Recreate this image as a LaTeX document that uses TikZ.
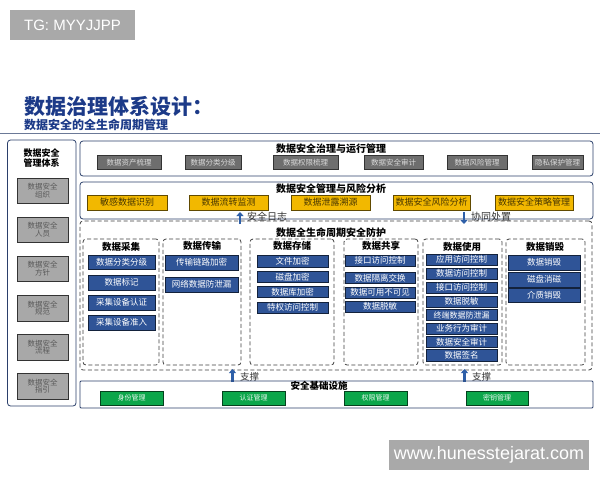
\documentclass[tikz,border=0pt]{standalone}
\usepackage{fontspec}
\setmainfont{Noto Sans CJK SC}
\newfontfamily\wmfont{Liberation Sans}
\usetikzlibrary{arrows.meta}
\definecolor{navy}{HTML}{2B3F6B}
\definecolor{titleblue}{HTML}{1C3A88}
\definecolor{dgray}{HTML}{6E6E6E}
\definecolor{lgray}{HTML}{A8A8A8}
\definecolor{yel}{HTML}{F2B800}
\definecolor{blu}{HTML}{2F5497}
\definecolor{grn}{HTML}{0BA64A}
\definecolor{arr}{HTML}{2E5FA8}
\definecolor{wm}{HTML}{A9A9A9}
\newcommand{\fs}[1]{\fontsize{#1}{#1}\selectfont}
\newcommand{\rb}[7]{\node[#1, inner sep=0pt, outer sep=0pt, minimum width={(#5-#3)*1pt}, minimum height={(#6-#4)*1pt}] (#2) at ({(#3+#5)/2},{(#4+#6)/2}) {#7};}
\tikzset{
  frame/.style={draw=navy, line width=0.8pt, rounded corners=3pt},
  dframe/.style={draw=black!75, line width=0.8pt, dash pattern=on 4pt off 2.5pt, rounded corners=3pt},
  graybox/.style={draw=black!80, fill=dgray, line width=0.6pt, text=black!15, font=\fs{7.5}},
  leftbox/.style={draw=black!80, fill=lgray, line width=0.6pt, text=black!65, font=\fs{7.5}, align=center},
  yelbox/.style={draw=black!60!yel, fill=yel, line width=0.6pt, text=black!70!yel, font=\fs{9}},
  blubox/.style={draw=black!60!blu, fill=blu, line width=0.6pt, text=white, font=\fs{8.5}},
  grnbox/.style={draw=black!60!grn, fill=grn, line width=0.6pt, text=white!90!grn, font=\fs{7}},
  sect/.style={font=\bfseries\fs{10}, text=black, inner sep=0pt},
  colt/.style={font=\bfseries\fs{9.5}, text=black, inner sep=0pt},
  lbl/.style={font=\fs{10}, text=black!80, inner sep=0pt, anchor=west},
  bigarrow/.style={draw=arr, line width=2.6pt, -{Triangle[width=7pt,length=4pt]}},
}
\begin{document}
\begin{tikzpicture}[x=1pt,y=-1pt]
\useasboundingbox (0,0) rectangle (600,480);
\fill[white] (0,0) rectangle (600,480);
% watermarks
\rb{fill=wm, text=white, font=\wmfont\fs{15}}{wm1}{10}{10}{135}{40}{TG: MYYJJPP}
\rb{fill=wm, text=white, font=\wmfont\fs{18}}{wm2}{389}{440}{589}{470}{www.hunesstejarat.com}
% title
\node[anchor=base west, inner sep=0pt, text=titleblue, font=\bfseries\fs{21}] (title) at (24,114) {数据治理体系设计：};
\node[anchor=base west, inner sep=0pt, text=titleblue, font=\bfseries\fs{12}] (subtitle) at (24,129) {数据安全的全生命周期管理};
\coordinate (hl1) at (0,133.5);
\coordinate (hl2) at (600,133.5);
\draw[draw=navy!70, line width=0.8pt] (hl1) -- (hl2);
% left column
\rb{frame}{left}{7.5}{140}{76}{406}{}
\node[font=\bfseries\fs{9}, align=center, inner sep=0pt] (lefttitle) at (41.5,158) {数据安全\\[1pt]管理体系};
\rb{leftbox}{l1}{17}{178}{68}{203}{数据安全\\组织}
\rb{leftbox}{l2}{17}{217}{68}{242}{数据安全\\人员}
\rb{leftbox}{l3}{17}{256}{68}{281}{数据安全\\方针}
\rb{leftbox}{l4}{17}{295}{68}{321}{数据安全\\规范}
\rb{leftbox}{l5}{17}{334}{68}{360}{数据安全\\流程}
\rb{leftbox}{l6}{17}{373}{68}{399}{数据安全\\指引}
% top box
\rb{frame}{top}{80}{141}{593}{176}{}
\node[sect] (toptitle) at (331,148.5) {数据安全治理与运行管理};
\rb{graybox}{g1}{97}{155}{161}{169.5}{数据资产梳理}
\rb{graybox}{g2}{185}{155}{241}{169.5}{数据分类分级}
\rb{graybox}{g3}{273}{155}{338}{169.5}{数据权限梳理}
\rb{graybox}{g4}{364}{155}{423}{169.5}{数据安全审计}
\rb{graybox}{g5}{447}{155}{507}{169.5}{数据风险管理}
\rb{graybox}{g6}{532}{155}{583}{169.5}{隐私保护管理}
% second box
\rb{frame}{risk}{80}{182}{593}{219}{}
\node[sect] (risktitle) at (331,189) {数据安全管理与风险分析};
\rb{yelbox}{y1}{87}{195}{167}{210}{敏感数据识别}
\rb{yelbox}{y2}{189}{195}{268}{210}{数据流转监测}
\rb{yelbox}{y3}{291}{195}{370}{210}{数据泄露溯源}
\rb{yelbox}{y4}{393}{195}{470}{210}{数据安全风险分析}
\rb{yelbox}{y5}{495}{195}{573}{210}{数据安全策略管理}
% lifecycle outer
\rb{dframe}{life}{80}{221}{592}{370}{}
\coordinate (a1s) at (240,224);
\coordinate (a1e) at (240,212);
\draw[bigarrow] (a1s) -- (a1e);
\node[lbl] (log) at (247,217) {安全日志};
\coordinate (a2s) at (464,212);
\coordinate (a2e) at (464,224);
\draw[bigarrow] (a2s) -- (a2e);
\node[lbl] (coop) at (471,217) {协同处置};
\node[sect] (lifetitle) at (331,232.5) {数据全生命周期安全防护};
% columns
\rb{dframe}{c1}{83}{239}{159}{365}{}
\rb{dframe}{c2}{163}{239}{241}{365}{}
\rb{dframe}{c3}{250}{239}{334}{365}{}
\rb{dframe}{c4}{344}{239}{418}{365}{}
\rb{dframe}{c5}{423}{239}{502}{365}{}
\rb{dframe}{c6}{506}{239}{585}{365}{}
\node[colt] (t1) at (121,247) {数据采集};
\node[colt] (t2) at (202,246) {数据传输};
\node[colt] (t3) at (292,246) {数据存储};
\node[colt] (t4) at (381,246) {数据共享};
\node[colt] (t5) at (462,247) {数据使用};
\node[colt] (t6) at (545,247) {数据销毁};
% col1
\rb{blubox}{b11}{88}{255}{155}{269.5}{数据分类分级}
\rb{blubox}{b12}{88}{275}{155}{290}{数据标记}
\rb{blubox}{b13}{88}{295}{155}{310}{采集设备认证}
\rb{blubox}{b14}{88}{315}{155}{330}{采集设备准入}
% col2
\rb{blubox}{b21}{165}{255}{238}{270}{传输链路加密}
\rb{blubox}{b22}{165}{277}{238}{292}{网络数据防泄漏}
% col3
\rb{blubox}{b31}{257}{255}{328}{267}{文件加密}
\rb{blubox}{b32}{257}{271}{328}{282.5}{磁盘加密}
\rb{blubox}{b33}{257}{286}{328}{297.5}{数据库加密}
\rb{blubox}{b34}{257}{302}{328}{313.5}{特权访问控制}
% col4
\rb{blubox}{b41}{345}{255}{415}{266.5}{接口访问控制}
\rb{blubox}{b42}{345}{272}{415}{283.5}{数据隔离交换}
\rb{blubox}{b43}{345}{287}{415}{298.5}{数据可用不可见}
\rb{blubox}{b44}{345}{301}{415}{312.5}{数据脱敏}
% col5
\rb{blubox}{b51}{426}{254}{497}{265}{应用访问控制}
\rb{blubox}{b52}{426}{268}{497}{279.5}{数据访问控制}
\rb{blubox}{b53}{426}{282}{497}{293}{接口访问控制}
\rb{blubox}{b54}{426}{296}{497}{307}{数据脱敏}
\rb{blubox,font=\fs{8}}{b55}{426}{309.5}{497}{320.5}{终端数据防泄漏}
\rb{blubox}{b56}{426}{323}{497}{334}{业务行为审计}
\rb{blubox}{b57}{426}{336.5}{497}{347.5}{数据安全审计}
\rb{blubox}{b58}{426}{349.5}{497}{361}{数据签名}
% col6
\rb{blubox}{b61}{508}{255}{580}{270}{数据销毁}
\rb{blubox}{b62}{508}{272}{580}{287}{磁盘消磁}
\rb{blubox}{b63}{508}{288}{580}{302}{介质销毁}
% support arrows
\coordinate (s1s) at (232.5,382);
\coordinate (s1e) at (232.5,369);
\draw[bigarrow] (s1s) -- (s1e);
\node[lbl, font=\fs{9.5}] (sup1) at (240,377) {支撑};
\coordinate (s2s) at (464.5,382);
\coordinate (s2e) at (464.5,369);
\draw[bigarrow] (s2s) -- (s2e);
\node[lbl, font=\fs{9.5}] (sup2) at (472,377) {支撑};
% infrastructure
\rb{frame, rounded corners=1pt}{infra}{80}{381}{593}{408}{}
\node[colt] (infratitle) at (319,386) {安全基础设施};
\rb{grnbox}{gr1}{100}{391}{163}{405}{身份管理}
\rb{grnbox}{gr2}{222}{391}{285}{405}{认证管理}
\rb{grnbox}{gr3}{344}{391}{407}{405}{权限管理}
\rb{grnbox}{gr4}{466}{391}{528}{405}{密钥管理}
\end{tikzpicture}
\end{document}
